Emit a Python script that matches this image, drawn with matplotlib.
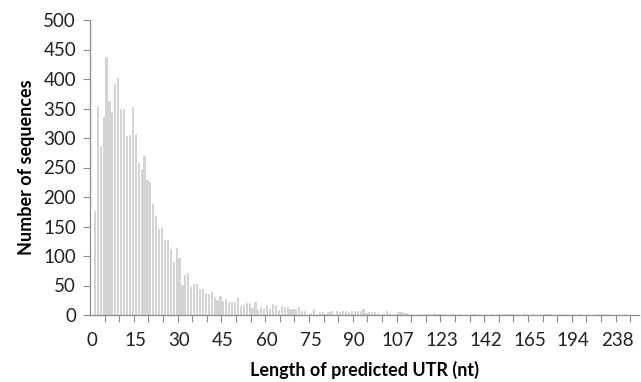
import numpy as np
from matplotlib import pyplot as plt

# longitudes de UTR (categorias del eje x, solo se rotula una de cada 15)
longitudes = list(range(0, 91)) + [
    91, 92, 93, 94, 95, 96, 97, 98, 99, 100, 101, 102, 104, 106, 107,
    108, 109, 110, 111, 112, 113, 114, 116, 117, 118, 119, 120, 121, 122, 123,
    124, 125, 126, 127, 128, 130, 131, 132, 134, 135, 136, 138, 139, 140, 142,
    143, 144, 146, 147, 149, 150, 152, 153, 155, 156, 158, 160, 161, 163, 165,
    166, 168, 170, 171, 173, 175, 177, 179, 181, 183, 185, 187, 189, 191, 194,
    196, 199, 201, 204, 207, 210, 213, 216, 219, 222, 225, 228, 231, 235, 238,
    245, 252, 260, 271, 285, 302, 330]

secuencias = [
    0, 176, 354, 286, 335, 437, 363, 344, 391, 402,
    349, 349, 303, 305, 352, 307, 258, 248, 270, 228,
    226, 188, 168, 146, 147, 127, 127, 112, 90, 114,
    97, 51, 68, 71, 47, 52, 52, 44, 44, 38,
    36, 39, 31, 25, 33, 23, 27, 22, 22, 22,
    30, 15, 17, 21, 21, 12, 22, 8, 13, 11,
    17, 10, 19, 17, 8, 16, 13, 13, 10, 10,
    10, 14, 6, 6, 2, 4, 10, 1, 5, 5,
    1, 5, 6, 2, 6, 5, 6, 6, 5, 6,
    6, 6, 6, 10, 4, 5, 5, 5, 4, 2,
    3, 7, 3, 1, 2, 5, 5, 4, 3, 2,
    1, 0, 1, 2, 1, 2, 1, 3, 1, 2,
    1, 1, 0, 2, 1, 0, 1, 0, 2, 0,
    1, 1, 0, 1, 0, 1, 0, 1, 0, 2,
    2, 1, 2, 2, 1, 0, 1, 0, 4, 1,
    0, 1, 0, 0, 1, 2, 2, 2, 0, 0,
    1, 2, 2, 1, 0, 1, 0, 1, 0, 0,
    1, 0, 0, 1, 2, 2, 1, 2, 0, 0,
    1, 0, 0, 1, 0, 0, 0, 0]

yticks = [0, 50, 100, 150, 200, 250, 300, 350, 400, 450, 500]

plt.rcParams['font.family'] = ['Lato', 'DejaVu Sans']
gris = '#8c8c8c'

fig = plt.figure(figsize=(6.41, 3.82), dpi=100)
ax = fig.add_axes([90 / 641, 67 / 382, 549 / 641, 295 / 382])

x = np.arange(len(longitudes))
ax.bar(x, secuencias, width=0.4, color='#d6d6d6', edgecolor='#c2c2c2', linewidth=0.4)

ax.set_xlim(-0.5, len(longitudes) - 0.5)
ax.set_ylim(0, 500)
ax.set_yticks(yticks)
ax.set_yticklabels([str(v) for v in yticks], fontsize=13.5, color='#222222')

# etiquetas cada 15 categorias, marcas cada 5
ax.set_xticks(x[::15])
ax.set_xticklabels([str(longitudes[i]) for i in x[::15]], fontsize=13.5, color='#222222')
ax.set_xticks(np.arange(4.5, len(longitudes), 5), minor=True)
ax.tick_params(axis='x', which='major', length=0, pad=12)
ax.tick_params(axis='x', which='minor', length=5, width=0.8, color=gris, direction='out')
ax.tick_params(axis='y', length=5, width=0.8, color=gris, pad=5)

for lado in ['top', 'right']:
    ax.spines[lado].set_visible(False)
for lado in ['left', 'bottom']:
    ax.spines[lado].set_color(gris)
    ax.spines[lado].set_linewidth(0.9)

ax.set_ylabel('Number of sequences', fontsize=13, fontweight='bold', labelpad=6)
ax.set_xlabel('Length of predicted UTR (nt)', fontsize=13, fontweight='bold', labelpad=9)

fig.savefig('out.png', dpi=100)
